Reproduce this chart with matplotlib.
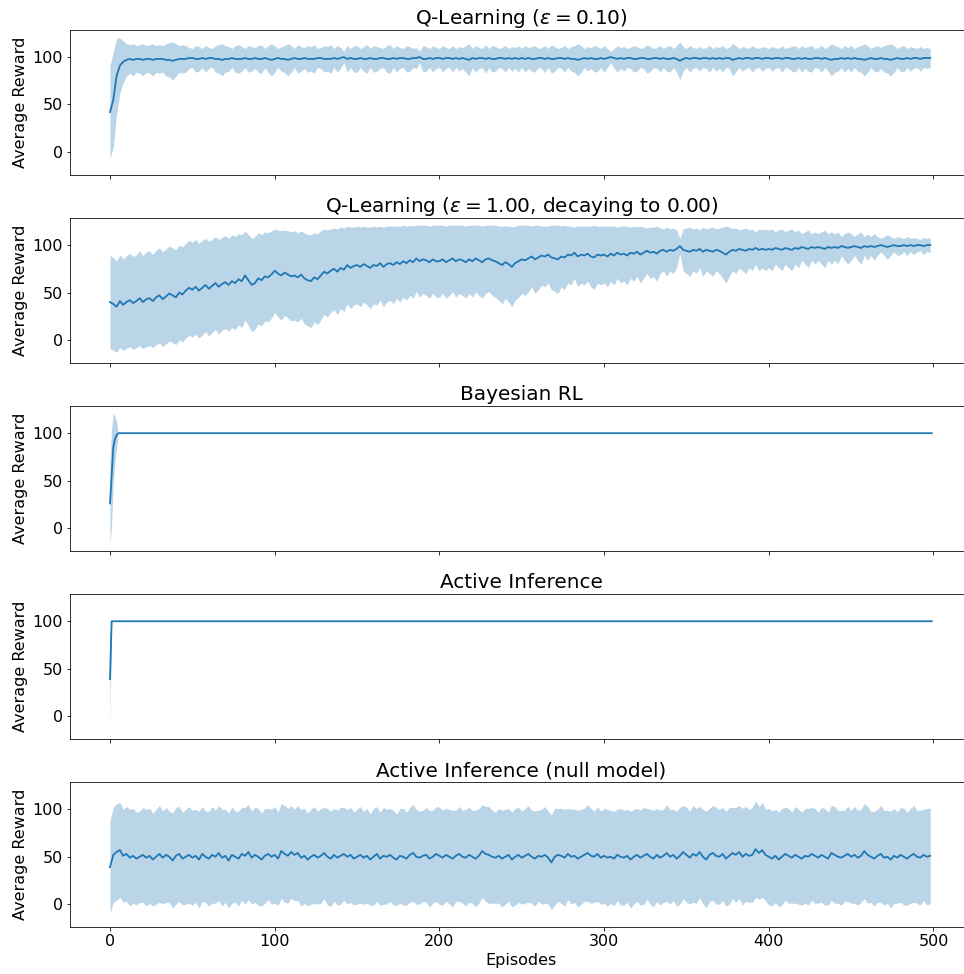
import numpy as np
import matplotlib
matplotlib.use("Agg")
import matplotlib.pyplot as plt

# episodes are sampled every 2 for the noisy agents
episodes_step2 = list(range(0, 500, 2))
episodes_all = list(range(0, 500))

# Q-Learning (eps = 0.10)
q01_mean = [
    42, 55, 80, 91, 95, 97, 98, 97, 98, 98, 97, 98, 98, 97, 98, 98, 98, 97, 97, 96, 97, 98, 98, 98, 99,
    99, 98, 98, 99, 98, 99, 99, 98, 98, 97, 98, 98, 99, 98, 98, 98, 99, 98, 98, 99, 98, 98, 99, 98, 97,
    98, 99, 98, 98, 97, 98, 99, 98, 98, 99, 98, 98, 98, 99, 99, 98, 98, 98, 99, 98, 99, 100, 98, 99, 98,
    98, 99, 98, 98, 99, 98, 98, 99, 99, 98, 98, 99, 98, 99, 99, 98, 98, 99, 99, 100, 98, 98, 99, 98, 99,
    99, 98, 99, 99, 98, 99, 98, 99, 98, 97, 99, 98, 99, 99, 98, 99, 98, 98, 99, 99, 98, 99, 98, 99, 98,
    99, 98, 99, 98, 98, 99, 99, 98, 99, 98, 98, 99, 99, 98, 99, 98, 98, 97, 98, 99, 98, 99, 98, 98, 99,
    98, 99, 100, 99, 98, 99, 98, 99, 99, 98, 98, 99, 99, 98, 98, 99, 99, 98, 99, 98, 98, 99, 98, 96, 98,
    99, 98, 99, 99, 98, 99, 99, 98, 99, 98, 99, 98, 99, 99, 97, 98, 99, 98, 99, 99, 98, 99, 99, 98, 99,
    99, 98, 99, 99, 98, 99, 99, 98, 98, 99, 98, 99, 98, 98, 99, 99, 98, 99, 98, 97, 98, 98, 99, 98, 99,
    98, 99, 98, 98, 97, 98, 99, 98, 98, 99, 98, 98, 97, 98, 99, 98, 98, 99, 98, 99, 99, 98, 99, 99, 99,
]
q01_std = [
    49, 50, 40, 29, 22, 17, 15, 17, 14, 15, 17, 14, 15, 17, 14, 15, 14, 17, 18, 20, 17, 14, 15, 14, 11,
    10, 14, 13, 10, 14, 11, 10, 14, 15, 17, 14, 13, 10, 14, 15, 13, 10, 14, 13, 11, 14, 15, 10, 14, 17,
    14, 10, 13, 14, 17, 14, 10, 15, 13, 11, 14, 13, 15, 10, 11, 14, 13, 15, 10, 14, 11, 6, 14, 10, 14,
    14, 10, 13, 15, 10, 14, 13, 11, 10, 14, 15, 10, 14, 11, 10, 14, 13, 10, 11, 6, 14, 13, 10, 14, 11,
    10, 14, 11, 10, 14, 10, 13, 11, 14, 17, 10, 14, 11, 10, 15, 10, 14, 13, 10, 11, 14, 10, 13, 11, 14,
    10, 14, 11, 13, 14, 10, 11, 14, 10, 15, 13, 10, 11, 14, 10, 13, 14, 17, 14, 10, 13, 11, 14, 13, 10,
    14, 10, 6, 10, 14, 11, 13, 10, 11, 14, 13, 10, 11, 15, 13, 10, 11, 14, 10, 13, 14, 10, 14, 20, 13,
    10, 14, 11, 10, 13, 10, 11, 14, 10, 13, 11, 14, 10, 11, 17, 14, 10, 13, 11, 10, 14, 11, 10, 13, 11,
    10, 13, 11, 10, 14, 10, 11, 13, 14, 10, 14, 11, 13, 14, 10, 11, 14, 10, 13, 17, 14, 13, 10, 14, 11,
    14, 10, 13, 14, 17, 14, 10, 13, 14, 11, 14, 15, 17, 14, 10, 13, 14, 10, 13, 11, 10, 13, 10, 11, 10,
]

# Q-Learning (eps = 1.00, decaying to 0.00)
qdec_mean = [
    40, 38, 35, 41, 37, 40, 42, 39, 41, 44, 40, 43, 44, 41, 45, 47, 43, 46, 49, 47, 45, 50, 48, 52, 55,
    53, 56, 52, 55, 58, 54, 57, 60, 56, 59, 61, 58, 62, 60, 64, 62, 68, 63, 58, 60, 65, 63, 67, 66, 69,
    73, 70, 68, 71, 69, 67, 68, 66, 69, 65, 63, 62, 66, 64, 68, 72, 70, 73, 75, 72, 76, 74, 79, 76, 78,
    79, 77, 80, 78, 76, 79, 78, 81, 77, 80, 81, 79, 82, 80, 83, 81, 84, 82, 86, 83, 85, 84, 82, 85, 83,
    83, 85, 82, 84, 86, 83, 85, 84, 82, 85, 83, 86, 84, 82, 85, 86, 84, 83, 81, 79, 82, 80, 77, 81, 83,
    85, 84, 86, 88, 85, 87, 89, 88, 90, 87, 86, 85, 88, 87, 90, 89, 92, 88, 90, 89, 91, 88, 87, 90, 89,
    90, 88, 91, 89, 92, 90, 91, 89, 92, 91, 93, 90, 92, 94, 92, 93, 91, 94, 95, 93, 95, 94, 96, 99, 95,
    94, 93, 95, 94, 96, 93, 95, 94, 93, 95, 94, 92, 90, 93, 95, 94, 96, 95, 94, 96, 95, 97, 95, 96, 95,
    96, 95, 97, 96, 95, 97, 96, 95, 97, 96, 98, 97, 96, 98, 97, 98, 97, 96, 98, 97, 98, 97, 99, 98, 97,
    98, 99, 98, 97, 99, 98, 99, 98, 99, 100, 99, 98, 99, 100, 99, 99, 100, 99, 100, 99, 100, 100, 99, 100, 100,
]
qdec_std = [
    49, 49, 48, 49, 48, 49, 49, 49, 49, 50, 49, 50, 50, 49, 50, 50, 50, 50, 50, 50, 50, 50, 50, 50, 50,
    50, 50, 50, 50, 49, 50, 49, 49, 50, 49, 49, 49, 49, 49, 48, 49, 47, 48, 49, 49, 48, 48, 47, 47, 46,
    44, 46, 47, 45, 46, 47, 47, 47, 46, 48, 48, 49, 47, 48, 47, 45, 46, 44, 43, 45, 43, 44, 41, 43, 41,
    41, 42, 40, 41, 43, 41, 41, 39, 42, 40, 39, 41, 38, 40, 38, 39, 37, 38, 35, 38, 36, 37, 38, 36, 38,
    38, 36, 38, 37, 35, 38, 36, 37, 38, 36, 38, 35, 37, 38, 36, 35, 37, 38, 39, 41, 38, 40, 42, 39, 38,
    36, 37, 35, 32, 36, 34, 31, 32, 30, 34, 35, 36, 32, 34, 30, 31, 27, 32, 30, 31, 29, 32, 34, 30, 31,
    30, 32, 29, 31, 27, 30, 29, 31, 27, 29, 26, 30, 27, 24, 27, 26, 29, 24, 22, 26, 22, 24, 20, 8, 22,
    24, 26, 22, 24, 20, 26, 22, 24, 26, 22, 24, 27, 30, 26, 22, 24, 20, 22, 24, 20, 22, 17, 22, 20, 22,
    20, 22, 17, 20, 22, 17, 20, 22, 17, 20, 14, 17, 20, 14, 17, 14, 17, 20, 14, 17, 14, 17, 10, 14, 17,
    14, 10, 14, 17, 10, 14, 10, 14, 10, 7, 10, 13, 10, 7, 10, 9, 7, 10, 7, 9, 7, 6, 9, 7, 8,
]

# Bayesian RL and Active Inference settle at 100 after the first episodes
bayes_mean = [26, 55, 85, 94, 98] + [100] * 495
bayes_std = [44, 50, 36, 24, 14] + [0] * 495
aif_mean = [39] + [100] * 499
aif_std = [49] + [0] * 499

# Active Inference (null model)
null_mean = [
    39, 52, 55, 57, 51, 53, 49, 51, 48, 50, 52, 49, 51, 47, 50, 53, 49, 52, 50, 46, 51, 53, 48, 50, 52,
    49, 51, 47, 53, 50, 48, 52, 50, 54, 49, 51, 46, 52, 50, 48, 53, 51, 55, 49, 52, 50, 47, 51, 53, 50,
    52, 48, 56, 53, 51, 55, 52, 54, 49, 51, 47, 50, 52, 49, 51, 54, 50, 48, 52, 49, 51, 53, 50, 52, 48,
    50, 52, 49, 51, 47, 50, 53, 48, 51, 50, 52, 49, 47, 51, 50, 48, 52, 54, 50, 49, 51, 52, 48, 50, 53,
    51, 49, 52, 50, 48, 51, 53, 50, 49, 52, 50, 48, 51, 56, 53, 52, 50, 49, 51, 48, 50, 52, 47, 50, 52,
    49, 51, 53, 50, 48, 51, 50, 52, 49, 44, 50, 52, 51, 49, 53, 50, 51, 48, 50, 52, 54, 51, 50, 53, 49,
    51, 49, 50, 48, 52, 50, 49, 51, 47, 50, 52, 49, 51, 53, 50, 48, 52, 49, 51, 54, 50, 52, 48, 51, 55,
    52, 49, 53, 51, 55, 50, 47, 52, 54, 51, 50, 53, 48, 51, 54, 52, 55, 50, 53, 51, 52, 58, 54, 57, 52,
    50, 48, 51, 47, 50, 53, 51, 49, 52, 50, 48, 51, 50, 53, 51, 49, 52, 50, 48, 54, 52, 50, 49, 51, 53,
    50, 52, 49, 51, 56, 52, 50, 48, 51, 53, 49, 50, 47, 51, 49, 52, 50, 48, 51, 53, 50, 49, 52, 50, 51,
]
null_std = [
    49, 50, 51, 50, 49, 50, 51, 50, 49, 48, 50, 51, 50, 49, 50, 51, 49, 50, 48, 50, 51, 50, 49, 50, 51,
    50, 49, 51, 50, 48, 50, 51, 49, 50, 51, 49, 50, 51, 48, 50, 49, 51, 50, 49, 50, 51, 49, 50, 48, 50,
    51, 49, 50, 51, 50, 49, 48, 50, 51, 50, 49, 50, 51, 49, 50, 48, 51, 50, 49, 50, 51, 49, 50, 50, 49,
    50, 51, 49, 50, 48, 51, 50, 49, 51, 50, 49, 50, 48, 50, 51, 49, 50, 51, 50, 49, 48, 50, 51, 49, 50,
    51, 50, 49, 50, 51, 48, 50, 49, 51, 50, 49, 51, 50, 49, 50, 51, 49, 48, 50, 51, 50, 49, 50, 51, 50,
    49, 50, 51, 49, 50, 48, 50, 51, 49, 50, 51, 49, 50, 51, 48, 50, 49, 51, 50, 49, 51, 50, 48, 50, 49,
    50, 51, 49, 50, 48, 51, 50, 49, 51, 50, 49, 50, 51, 48, 50, 51, 49, 50, 49, 51, 50, 48, 50, 51, 49,
    50, 49, 51, 50, 48, 50, 51, 49, 50, 51, 50, 49, 50, 51, 48, 50, 49, 51, 50, 49, 50, 51, 49, 50, 48,
    51, 50, 49, 50, 51, 49, 50, 48, 51, 50, 49, 50, 51, 49, 50, 48, 50, 51, 49, 50, 51, 49, 50, 48, 50,
    49, 51, 50, 49, 50, 51, 48, 50, 49, 51, 50, 49, 51, 50, 48, 50, 51, 49, 50, 51, 49, 50, 48, 51, 50,
]

titles = [
    r'Q-Learning ($\epsilon = 0.10$)',
    r'Q-Learning ($\epsilon = 1.00$, decaying to 0.00)',
    'Bayesian RL',
    'Active Inference',
    'Active Inference (null model)',
]
runs = [
    (episodes_step2, q01_mean, q01_std),
    (episodes_step2, qdec_mean, qdec_std),
    (episodes_all, bayes_mean, bayes_std),
    (episodes_all, aif_mean, aif_std),
    (episodes_step2, null_mean, null_std),
]

fig, axes = plt.subplots(5, 1, sharex=True, figsize=(964 / 72, 974 / 72), dpi=72)
# the right edge of the axes runs past the image, as in the cropped original
fig.subplots_adjust(left=0.0726, right=1.016, top=0.9692, bottom=0.0483, hspace=0.30)

for ax, title, (x, m, s) in zip(axes, titles, runs):
    x = np.asarray(x)
    m = np.asarray(m, dtype=float)
    s = np.asarray(s, dtype=float)
    ax.plot(x, m, color='C0', linewidth=1.8)
    ax.fill_between(x, m - s, m + s, color='C0', alpha=0.3, linewidth=0)
    ax.set_title(title, fontsize=20, x=0.4964)
    ax.set_ylabel('Average Reward', fontsize=16)
    ax.set_ylim(-24, 128.5)
    ax.set_yticks([0, 50, 100])
    ax.tick_params(labelsize=16)

axes[-1].set_xlim(-24.3, 527.9)
axes[-1].set_xticks([0, 100, 200, 300, 400, 500])
axes[-1].set_xlabel('Episodes', fontsize=16, x=0.4964)

plt.savefig('out.png', dpi=72)
